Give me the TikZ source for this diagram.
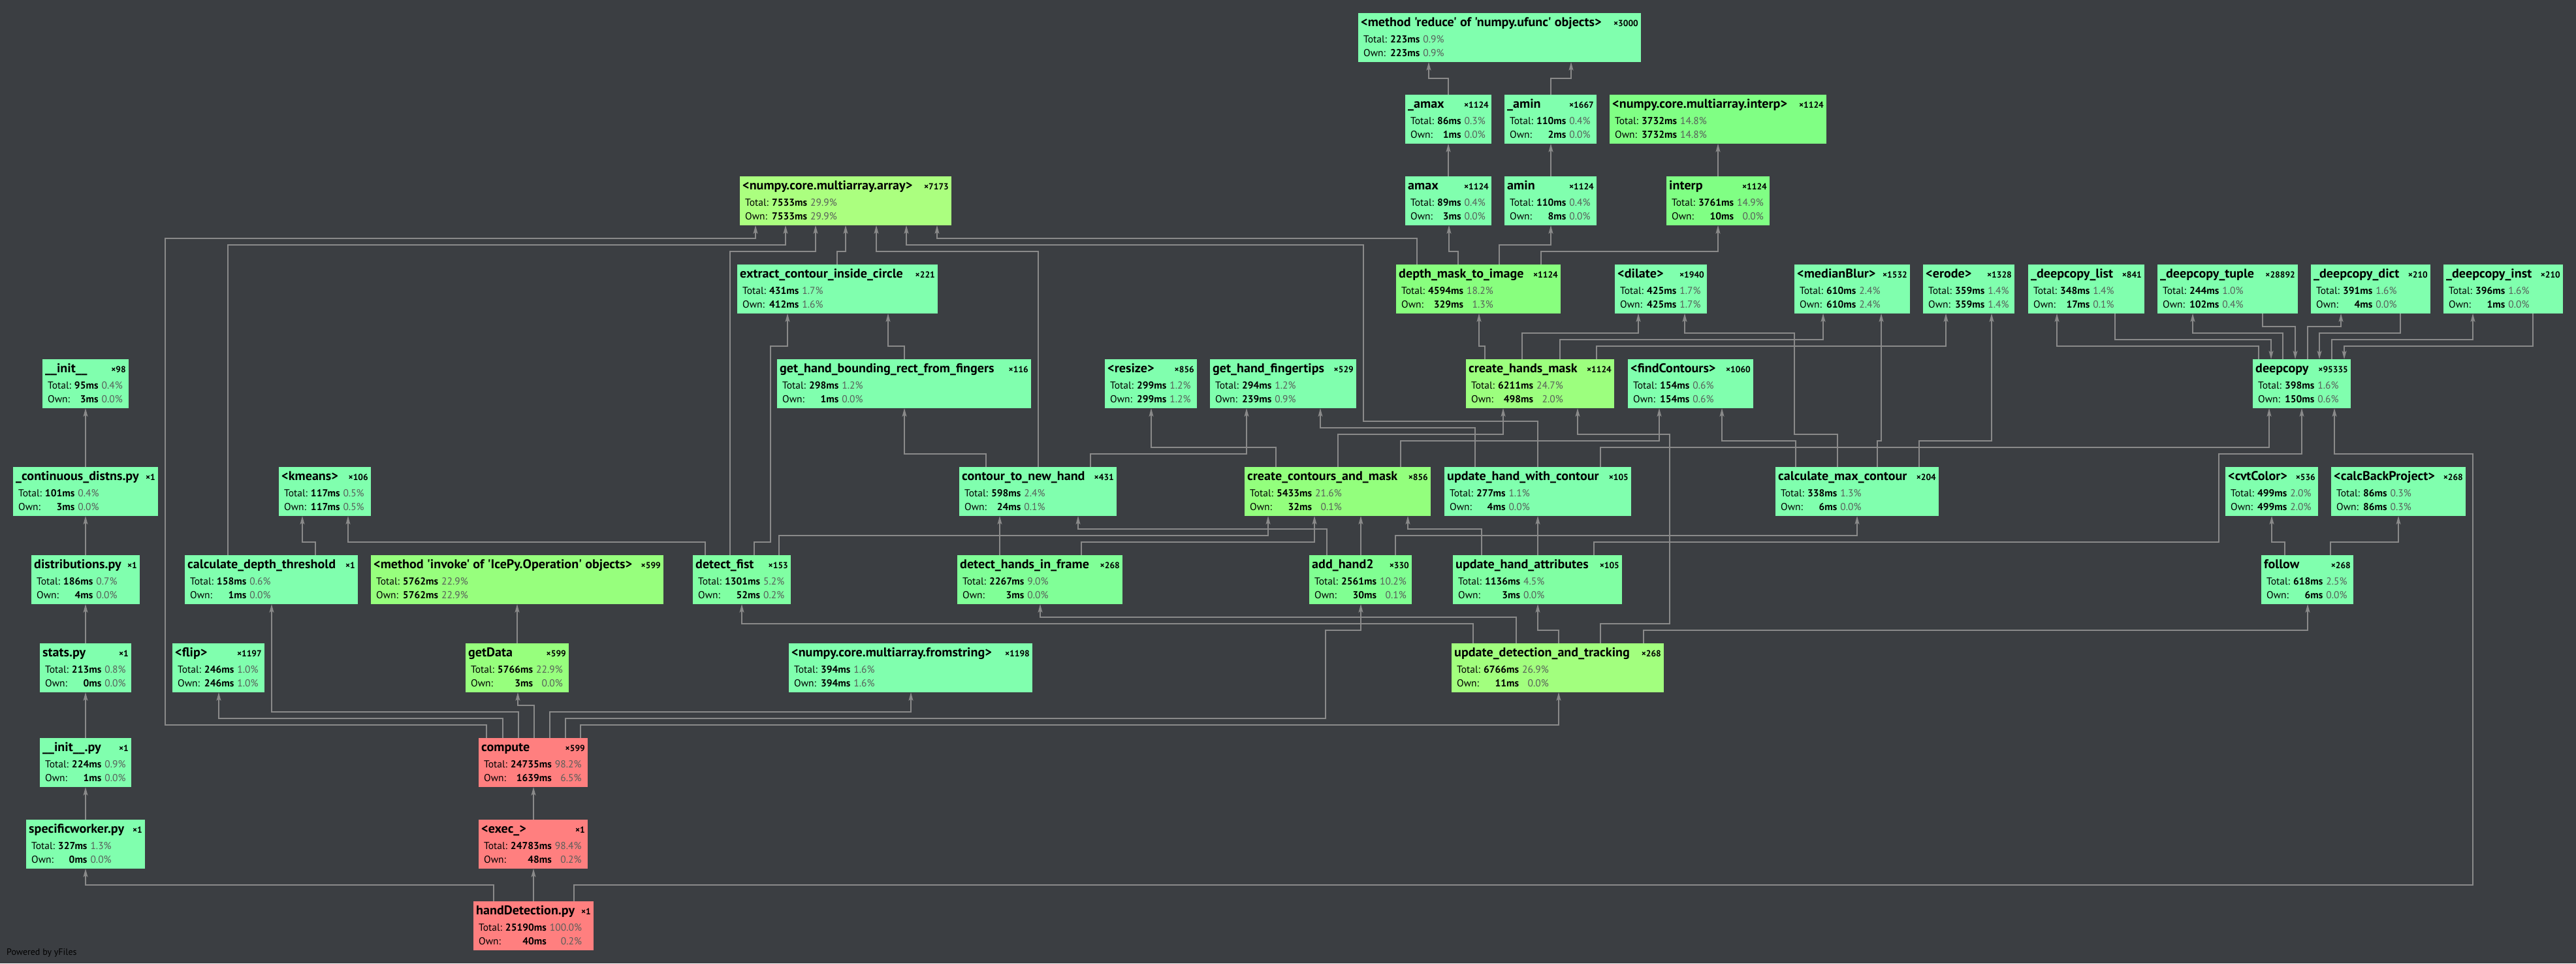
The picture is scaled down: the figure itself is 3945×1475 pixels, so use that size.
\documentclass[tikz,border=0pt]{standalone}
\usepackage{fontspec}
\usetikzlibrary{arrows.meta}
\newfontfamily\ptf{PT Sans}
\newfontfamily\ptt{PT Sans}[FakeStretch=1.03]
\definecolor{bgc}{RGB}{59,62,66}
\definecolor{edgec}{RGB}{138,138,138}
\definecolor{pctc}{RGB}{88,94,90}
\definecolor{cLow}{HTML}{80FFAE}
\definecolor{cFive}{HTML}{80FFA3}
\definecolor{cNine}{HTML}{80FF97}
\definecolor{cTen}{HTML}{80FF92}
\definecolor{cFift}{HTML}{80FF84}
\definecolor{cEight}{HTML}{88FF7E}
\definecolor{cTwTwo}{HTML}{93FF7D}
\definecolor{cTwThr}{HTML}{97FF7D}
\definecolor{cTwFiv}{HTML}{9CFF7E}
\definecolor{cTwSev}{HTML}{A2FF7E}
\definecolor{cThirty}{HTML}{ABFF7F}
\definecolor{cRed}{HTML}{FF7F7F}
\tikzset{
  fbox/.style={rectangle, draw=none, inner sep=0pt, outer sep=0pt, minimum height=75pt},
  ttl/.style={inner sep=0pt, font=\ptt\bfseries\fontsize{19.5}{21}\selectfont, text=black},
  cnt/.style={inner sep=0pt, font=\ptf\bfseries\fontsize{13.5}{15}\selectfont, text=black},
  stx/.style={inner sep=0pt, font=\ptf\fontsize{15.5}{21.5}\selectfont, text=black},
  edg/.style={draw=edgec, line width=1.4pt, -{Stealth[length=13pt,width=7pt,inset=3pt]}},
  foot/.style={inner sep=0pt, font=\ptf\fontsize{14}{16}\selectfont, text={RGB:red,105;green,109;blue,114}},
}
\newcommand\fnode[7]{%
  \node[fbox, fill=#5, minimum width={#4-#2}, anchor=north west] (#1) at (#2,#3) {};
  \node[ttl, anchor=base west] (#1t) at ([xshift=4pt,yshift=-20pt]#1.north west) {#6};
  \node[cnt, anchor=base east] (#1c) at ([xshift=-4pt,yshift=-20pt]#1.north east) {×#7};}
\newcommand\fstat[5]{%
  \node[stx, anchor=base west] (#1s) at ([xshift=8pt,yshift=-45pt]#1.north west)
   {\begin{tabular}[t]{@{}l@{\hspace{5pt}}r@{\hspace{5pt}}r@{}}Total:&\textbf{#2}&\textcolor{pctc}{#3\%}\\Own:&\textbf{#4}&\textcolor{pctc}{#5\%}\end{tabular}};}
\begin{document}
\begin{tikzpicture}[x=1pt,y=-1pt]
\fill[bgc] (0,0) rectangle (3945,1475);
\path[use as bounding box] (0,0) rectangle (3945,1475);
% Row A
\fnode{reduce}{2080}{20}{2513}{cLow}{<method 'reduce' of 'numpy.ufunc' objects>}{3000}\fstat{reduce}{223ms}{0.9}{223ms}{0.9}
% Row B
\fnode{uamax}{2152}{145}{2284}{cLow}{\_amax}{1124}\fstat{uamax}{86ms}{0.3}{1ms}{0.0}
\fnode{uamin}{2304}{145}{2445}{cLow}{\_amin}{1667}\fstat{uamin}{110ms}{0.4}{2ms}{0.0}
\fnode{ninterp}{2465}{145}{2797}{cFift}{<numpy.core.multiarray.interp>}{1124}\fstat{ninterp}{3732ms}{14.8}{3732ms}{14.8}
% Row C
\fnode{array}{1133}{270}{1457}{cThirty}{<numpy.core.multiarray.array>}{7173}\fstat{array}{7533ms}{29.9}{7533ms}{29.9}
\fnode{amax}{2152}{270}{2284}{cLow}{amax}{1124}\fstat{amax}{89ms}{0.4}{3ms}{0.0}
\fnode{amin}{2304}{270}{2445}{cLow}{amin}{1124}\fstat{amin}{110ms}{0.4}{8ms}{0.0}
\fnode{interp}{2552}{270}{2710}{cFift}{interp}{1124}\fstat{interp}{3761ms}{14.9}{10ms}{0.0}
% Row D
\fnode{extract}{1129}{405}{1436}{cLow}{extract\_contour\_inside\_circle}{221}\fstat{extract}{431ms}{1.7}{412ms}{1.6}
\fnode{depthmask}{2138}{405}{2390}{cEight}{depth\_mask\_to\_image}{1124}\fstat{depthmask}{4594ms}{18.2}{329ms}{1.3}
\fnode{dilate}{2473}{405}{2614}{cLow}{<dilate>}{1940}\fstat{dilate}{425ms}{1.7}{425ms}{1.7}
\fnode{median}{2748}{405}{2925}{cLow}{<medianBlur>}{1532}\fstat{median}{610ms}{2.4}{610ms}{2.4}
\fnode{erode}{2945}{405}{3085}{cLow}{<erode>}{1328}\fstat{erode}{359ms}{1.4}{359ms}{1.4}
\fnode{dclist}{3106}{405}{3284}{cLow}{\_deepcopy\_list}{841}\fstat{dclist}{348ms}{1.4}{17ms}{0.1}
\fnode{dctuple}{3304}{405}{3519}{cLow}{\_deepcopy\_tuple}{28892}\fstat{dctuple}{244ms}{1.0}{102ms}{0.4}
\fnode{dcdict}{3539}{405}{3722}{cLow}{\_deepcopy\_dict}{210}\fstat{dcdict}{391ms}{1.6}{4ms}{0.0}
\fnode{dcinst}{3742}{405}{3925}{cLow}{\_deepcopy\_inst}{210}\fstat{dcinst}{396ms}{1.6}{1ms}{0.0}
% Row E
\fnode{init}{65}{550}{197}{cLow}{\_\_init\_\_}{98}\fstat{init}{95ms}{0.4}{3ms}{0.0}
\fnode{bounding}{1190}{550}{1579}{cLow}{get\_hand\_bounding\_rect\_from\_fingers}{116}\fstat{bounding}{298ms}{1.2}{1ms}{0.0}
\fnode{resize}{1692}{550}{1833}{cLow}{<resize>}{856}\fstat{resize}{299ms}{1.2}{299ms}{1.2}
\fnode{fingertips}{1853}{550}{2077}{cLow}{get\_hand\_fingertips}{529}\fstat{fingertips}{294ms}{1.2}{239ms}{0.9}
\fnode{handsmask}{2245}{550}{2472}{cTwFiv}{create\_hands\_mask}{1124}\fstat{handsmask}{6211ms}{24.7}{498ms}{2.0}
\fnode{findc}{2493}{550}{2685}{cLow}{<findContours>}{1060}\fstat{findc}{154ms}{0.6}{154ms}{0.6}
\fnode{deepcopy}{3450}{550}{3600}{cLow}{deepcopy}{95335}\fstat{deepcopy}{398ms}{1.6}{150ms}{0.6}
% Row F
\fnode{contdist}{20}{715}{242}{cLow}{\_continuous\_distns.py}{1}\fstat{contdist}{101ms}{0.4}{3ms}{0.0}
\fnode{kmeans}{427}{715}{568}{cLow}{<kmeans>}{106}\fstat{kmeans}{117ms}{0.5}{117ms}{0.5}
\fnode{ctnh}{1469}{715}{1710}{cLow}{contour\_to\_new\_hand}{431}\fstat{ctnh}{598ms}{2.4}{24ms}{0.1}
\fnode{ccm}{1906}{715}{2191}{cTwTwo}{create\_contours\_and\_mask}{856}\fstat{ccm}{5433ms}{21.6}{32ms}{0.1}
\fnode{uhwc}{2212}{715}{2498}{cLow}{update\_hand\_with\_contour}{105}\fstat{uhwc}{277ms}{1.1}{4ms}{0.0}
\fnode{cmc}{2719}{715}{2969}{cLow}{calculate\_max\_contour}{204}\fstat{cmc}{338ms}{1.3}{6ms}{0.0}
\fnode{cvt}{3408}{715}{3550}{cLow}{<cvtColor>}{536}\fstat{cvt}{499ms}{2.0}{499ms}{2.0}
\fnode{cbp}{3570}{715}{3776}{cLow}{<calcBackProject>}{268}\fstat{cbp}{86ms}{0.3}{86ms}{0.3}
% Row G
\fnode{distr}{48}{850}{214}{cLow}{distributions.py}{1}\fstat{distr}{186ms}{0.7}{4ms}{0.0}
\fnode{cdt}{283}{850}{548}{cLow}{calculate\_depth\_threshold}{1}\fstat{cdt}{158ms}{0.6}{1ms}{0.0}
\fnode{invoke}{568}{850}{1016}{cTwThr}{<method 'invoke' of 'IcePy.Operation' objects>}{599}\fstat{invoke}{5762ms}{22.9}{5762ms}{22.9}
\fnode{fist}{1061}{850}{1211}{cFive}{detect\_fist}{153}\fstat{fist}{1301ms}{5.2}{52ms}{0.2}
\fnode{dhif}{1466}{850}{1719}{cNine}{detect\_hands\_in\_frame}{268}\fstat{dhif}{2267ms}{9.0}{3ms}{0.0}
\fnode{addh}{2005}{850}{2162}{cTen}{add\_hand2}{330}\fstat{addh}{2561ms}{10.2}{30ms}{0.1}
\fnode{uha}{2225}{850}{2484}{cFive}{update\_hand\_attributes}{105}\fstat{uha}{1136ms}{4.5}{3ms}{0.0}
\fnode{follow}{3463}{850}{3604}{cLow}{follow}{268}\fstat{follow}{618ms}{2.5}{6ms}{0.0}
% Row H
\fnode{stats}{61}{985}{201}{cLow}{stats.py}{1}\fstat{stats}{213ms}{0.8}{0ms}{0.0}
\fnode{flip}{264}{985}{405}{cLow}{<flip>}{1197}\fstat{flip}{246ms}{1.0}{246ms}{1.0}
\fnode{getdata}{713}{985}{871}{cTwThr}{getData}{599}\fstat{getdata}{5766ms}{22.9}{3ms}{0.0}
\fnode{fromstr}{1208}{985}{1581}{cLow}{<numpy.core.multiarray.fromstring>}{1198}\fstat{fromstr}{394ms}{1.6}{394ms}{1.6}
\fnode{udt}{2223}{985}{2548}{cTwSev}{update\_detection\_and\_tracking}{268}\fstat{udt}{6766ms}{26.9}{11ms}{0.0}
% Row I
\fnode{initpy}{61}{1130}{201}{cLow}{\_\_init\_\_.py}{1}\fstat{initpy}{224ms}{0.9}{1ms}{0.0}
\fnode{compute}{733}{1130}{900}{cRed}{compute}{599}\fstat{compute}{24735ms}{98.2}{1639ms}{6.5}
% Row J
\fnode{sw}{40}{1255}{222}{cLow}{specificworker.py}{1}\fstat{sw}{327ms}{1.3}{0ms}{0.0}
\fnode{exec}{733}{1255}{900}{cRed}{<exec\_>}{1}\fstat{exec}{24783ms}{98.4}{48ms}{0.2}
% Row K
\fnode{hd}{725}{1380}{909}{cRed}{handDetection.py}{1}\fstat{hd}{25190ms}{100.0}{40ms}{0.2}
\node[foot, anchor=west] (powered) at (10,1459) {Powered by yFiles};
% Edges
\draw[edg] (hd.north-|817,0) -- (exec.south-|817,0);
\draw[edg] (hd.north-|756,0) |- (131,1355) -- (sw.south-|131,0);
\draw[edg] (hd.north-|879,0) |- (3787,1355) |- (3575,695) -- (deepcopy.south-|3575,0);
\draw[edg] (exec.north-|817,0) -- (compute.south-|817,0);
\draw[edg] (compute.north-|745,0) |- (253,1110) |- (1157,365) -- (array.south-|1157,0);
\draw[edg] (compute.north-|770,0) |- (335,1100) -- (flip.south-|335,0);
\draw[edg] (compute.north-|794,0) |- (416,1090) -- (cdt.south-|416,0);
\draw[edg] (compute.north-|818,0) |- (793,1080) -- (getdata.south-|793,0);
\draw[edg] (compute.north-|842,0) |- (1395,1090) -- (fromstr.south-|1395,0);
\draw[edg] (compute.north-|866,0) |- (2030,1100) |- (2084,965) -- (addh.south-|2084,0);
\draw[edg] (compute.north-|889,0) |- (2387,1110) -- (udt.south-|2387,0);
\draw[edg] (sw.north-|131,0) -- (initpy.south-|131,0);
\draw[edg] (initpy.north-|131,0) -- (stats.south-|131,0);
\draw[edg] (stats.north-|131,0) -- (distr.south-|131,0);
\draw[edg] (distr.north-|131,0) -- (contdist.south-|131,0);
\draw[edg] (contdist.north-|131,0) -- (init.south-|131,0);
\draw[edg] (getdata.north-|792,0) -- (invoke.south-|792,0);
\draw[edg] (cdt.north-|483,0) |- (463,830) -- (kmeans.south-|463,0);
\draw[edg] (cdt.north-|349,0) |- (1203,375) -- (array.south-|1203,0);
\draw[edg] (fist.north-|1080,0) |- (533,830) -- (kmeans.south-|533,0);
\draw[edg] (fist.north-|1118,0) |- (1249,385) -- (array.south-|1249,0);
\draw[edg] (fist.north-|1155,0) |- (1180,830) |- (1206,530) -- (extract.south-|1206,0);
\draw[edg] (fist.north-|1193,0) |- (1942,820) -- (ccm.south-|1942,0);
\draw[edg] (extract.north-|1282,0) |- (1295,385) -- (array.south-|1295,0);
\draw[edg] (bounding.north-|1385,0) |- (1360,530) -- (extract.south-|1360,0);
\draw[edg] (ctnh.north-|1510,0) |- (1385,695) -- (bounding.south-|1385,0);
\draw[edg] (ctnh.north-|1590,0) |- (1342,385) -- (array.south-|1342,0);
\draw[edg] (ctnh.north-|1670,0) |- (1909,695) -- (fingertips.south-|1909,0);
\draw[edg] (ccm.north-|1954,0) |- (1763,685) -- (resize.south-|1763,0);
\draw[edg] (ccm.north-|2049,0) |- (2302,665) -- (handsmask.south-|2302,0);
\draw[edg] (ccm.north-|2145,0) |- (2541,675) -- (findc.south-|2541,0);
\draw[edg] (uhwc.north-|2259,0) |- (2022,655) -- (fingertips.south-|2022,0);
\draw[edg] (uhwc.north-|2355,0) |- (2088,645) |- (1388,375) -- (array.south-|1388,0);
\draw[edg] (uhwc.north-|2451,0) |- (3475,685) -- (deepcopy.south-|3475,0);
\draw[edg] (cmc.north-|2750,0) |- (2637,675) -- (findc.south-|2637,0);
\draw[edg] (cmc.north-|2814,0) |- (2748,665) |- (2580,510) -- (dilate.south-|2580,0);
\draw[edg] (cmc.north-|2875,0) |- (2881,675) -- (median.south-|2881,0);
\draw[edg] (cmc.north-|2939,0) |- (3050,675) -- (erode.south-|3050,0);
\draw[edg] (handsmask.north-|2274,0) |- (2265,530) -- (depthmask.south-|2265,0);
\draw[edg] (handsmask.north-|2331,0) |- (2509,510) -- (dilate.south-|2509,0);
\draw[edg] (handsmask.north-|2389,0) |- (2792,520) -- (median.south-|2792,0);
\draw[edg] (handsmask.north-|2445,0) |- (2980,530) -- (erode.south-|2980,0);
\draw[edg] (depthmask.north-|2170,0) |- (1435,365) -- (array.south-|1435,0);
\draw[edg] (depthmask.north-|2233,0) |- (2219,385) -- (amax.south-|2219,0);
\draw[edg] (depthmask.north-|2296,0) |- (2375,375) -- (amin.south-|2375,0);
\draw[edg] (depthmask.north-|2360,0) |- (2631,385) -- (interp.south-|2631,0);
\draw[edg] (amax.north-|2218,0) -- (uamax.south-|2218,0);
\draw[edg] (amin.north-|2375,0) -- (uamin.south-|2375,0);
\draw[edg] (interp.north-|2631,0) -- (ninterp.south-|2631,0);
\draw[edg] (uamax.north-|2218,0) |- (2188,120) -- (reduce.south-|2188,0);
\draw[edg] (uamin.north-|2375,0) |- (2406,120) -- (reduce.south-|2406,0);
\draw[edg] (dhif.north-|1531,0) -- (ctnh.south-|1531,0);
\draw[edg] (dhif.north-|1656,0) |- (2013,830) -- (ccm.south-|2013,0);
\draw[edg] (addh.north-|2032,0) |- (1651,810) -- (ctnh.south-|1651,0);
\draw[edg] (addh.north-|2084,0) -- (ccm.south-|2084,0);
\draw[edg] (addh.north-|2137,0) |- (2844,820) -- (cmc.south-|2844,0);
\draw[edg] (uha.north-|2269,0) |- (2156,810) -- (ccm.south-|2156,0);
\draw[edg] (uha.north-|2355,0) -- (uhwc.south-|2355,0);
\draw[edg] (uha.north-|2441,0) |- (3398,830) |- (3525,695) -- (deepcopy.south-|3525,0);
\draw[edg] (udt.north-|2256,0) |- (1136,955) -- (fist.south-|1136,0);
\draw[edg] (udt.north-|2322,0) |- (1593,945) -- (dhif.south-|1593,0);
\draw[edg] (udt.north-|2387,0) |- (2355,965) -- (uha.south-|2355,0);
\draw[edg] (udt.north-|2451,0) |- (2557,955) |- (2416,665) -- (handsmask.south-|2416,0);
\draw[edg] (udt.north-|2517,0) |- (3534,965) -- (follow.south-|3534,0);
\draw[edg] (follow.north-|3499,0) |- (3479,830) -- (cvt.south-|3479,0);
\draw[edg] (follow.north-|3569,0) |- (3673,830) -- (cbp.south-|3673,0);
\draw[edg] (deepcopy.north-|3459,0) |- (3150,530) -- (dclist.south-|3150,0);
\draw[edg] (deepcopy.north-|3496,0) |- (3358,510) -- (dctuple.south-|3358,0);
\draw[edg] (deepcopy.north-|3534,0) |- (3585,500) -- (dcdict.south-|3585,0);
\draw[edg] (deepcopy.north-|3571,0) |- (3787,520) -- (dcinst.south-|3787,0);
\draw[edg] (dclist.south-|3239,0) |- (3478,520) -- (deepcopy.north-|3478,0);
\draw[edg] (dctuple.south-|3465,0) |- (3515,500) -- (deepcopy.north-|3515,0);
\draw[edg] (dcdict.south-|3676,0) |- (3552,510) -- (deepcopy.north-|3552,0);
\draw[edg] (dcinst.south-|3879,0) |- (3590,530) -- (deepcopy.north-|3590,0);
\end{tikzpicture}
\end{document}
